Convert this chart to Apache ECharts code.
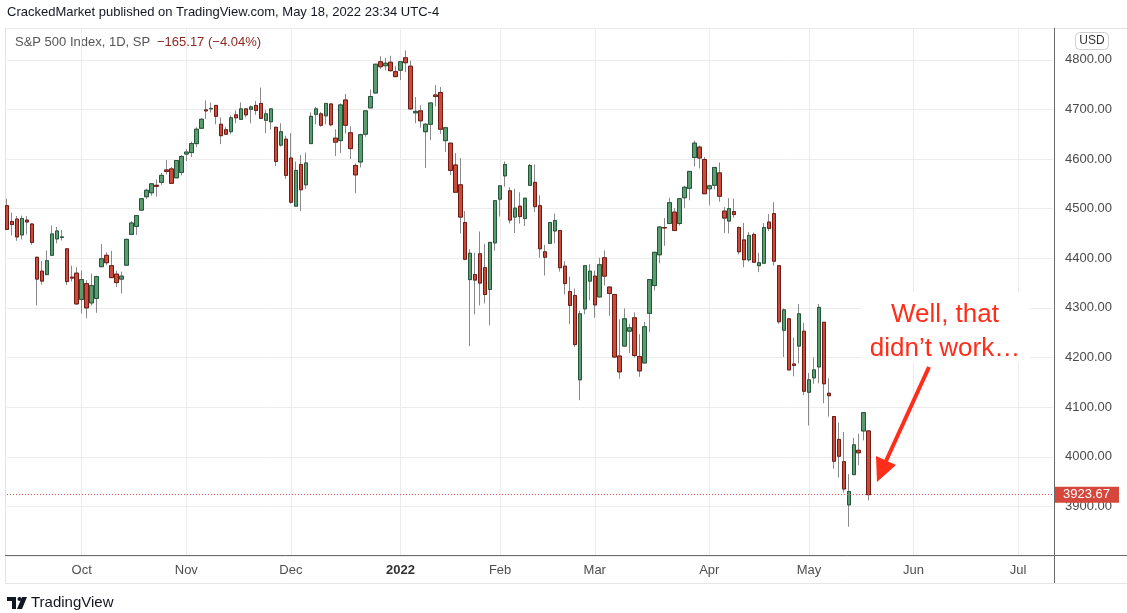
<!DOCTYPE html>
<html>
<head>
<meta charset="utf-8">
<title>S&P 500 Index, 1D</title>
<script src="https://cdn.jsdelivr.net/npm/echarts@6/dist/echarts.min.js"></script>
<style>
  html, body { margin: 0; padding: 0; background: #fff; }
  #chart { width: 1127px; height: 613px; }
</style>
</head>
<body>
<div id="chart"></div>
<script>
// daily candles, [open, high, low, close]
const sep21 = [
  [4506, 4520, 4457, 4458], [4474, 4492, 4446, 4468], [4479, 4485, 4435, 4443],
  [4447, 4486, 4438, 4480], [4477, 4485, 4448, 4473], [4469, 4471, 4427, 4432],
  [4402, 4403, 4305, 4358], [4374, 4394, 4347, 4354], [4367, 4416, 4367, 4395],
  [4406, 4466, 4406, 4449], [4439, 4463, 4430, 4455], [4442, 4457, 4436, 4443],
  [4419, 4419, 4346, 4353], [4362, 4385, 4353, 4360], [4370, 4382, 4306, 4308]
]
const oct21 = [
  [4317, 4375, 4289, 4357], [4349, 4356, 4279, 4300], [4310, 4369, 4305, 4345],
  [4319, 4365, 4290, 4363], [4383, 4429, 4383, 4399], [4406, 4412, 4386, 4391],
  [4385, 4415, 4360, 4361], [4368, 4375, 4342, 4351], [4358, 4373, 4329, 4364],
  [4386, 4440, 4386, 4438], [4448, 4475, 4447, 4471], [4464, 4487, 4447, 4486],
  [4497, 4520, 4496, 4520], [4524, 4540, 4520, 4537], [4532, 4551, 4526, 4550],
  [4547, 4559, 4524, 4545], [4553, 4572, 4548, 4567], [4578, 4598, 4569, 4575],
  [4580, 4584, 4551, 4551], [4562, 4598, 4562, 4597], [4573, 4608, 4567, 4605]
]
const nov21 = [
  [4610, 4620, 4596, 4614], [4613, 4635, 4604, 4631], [4631, 4664, 4624, 4660],
  [4662, 4683, 4662, 4680], [4699, 4718, 4681, 4697], [4701, 4714, 4694, 4702],
  [4708, 4708, 4670, 4686], [4670, 4684, 4630, 4647], [4659, 4664, 4648, 4650],
  [4655, 4688, 4650, 4683], [4689, 4698, 4672, 4683], [4680, 4714, 4679, 4701],
  [4701, 4701, 4684, 4689], [4700, 4708, 4672, 4705], [4708, 4717, 4689, 4698],
  [4712, 4744, 4682, 4682], [4678, 4699, 4652, 4691], [4675, 4702, 4659, 4701],
  [4664, 4664, 4586, 4595], [4628, 4672, 4625, 4655], [4640, 4647, 4560, 4567]
]
const dec21 = [
  [4602, 4652, 4510, 4513], [4505, 4595, 4504, 4577], [4589, 4608, 4495, 4538],
  [4548, 4613, 4540, 4592], [4631, 4694, 4631, 4686], [4690, 4705, 4670, 4701],
  [4691, 4695, 4665, 4668], [4687, 4713, 4670, 4712], [4711, 4711, 4666, 4669],
  [4642, 4660, 4606, 4634], [4637, 4712, 4612, 4709], [4719, 4731, 4651, 4668],
  [4653, 4666, 4600, 4621], [4587, 4591, 4531, 4568], [4594, 4651, 4583, 4649],
  [4650, 4697, 4645, 4697], [4703, 4740, 4703, 4726], [4733, 4791, 4733, 4791],
  [4796, 4807, 4781, 4786], [4788, 4804, 4779, 4793], [4795, 4808, 4776, 4778],
  [4776, 4787, 4766, 4766]
]
const jan22 = [
  [4779, 4797, 4759, 4796], [4804, 4819, 4775, 4794], [4787, 4798, 4699, 4701],
  [4693, 4725, 4672, 4696], [4697, 4708, 4663, 4677], [4655, 4673, 4582, 4670],
  [4670, 4714, 4638, 4713], [4729, 4749, 4706, 4726], [4734, 4745, 4651, 4660],
  [4637, 4665, 4614, 4663], [4632, 4632, 4568, 4577], [4588, 4612, 4532, 4533],
  [4548, 4602, 4450, 4483], [4472, 4495, 4396, 4398], [4357, 4418, 4223, 4410],
  [4367, 4411, 4287, 4356], [4409, 4454, 4305, 4350], [4381, 4429, 4309, 4327],
  [4337, 4432, 4265, 4432], [4431, 4516, 4415, 4516]
]
const feb22 = [
  [4519, 4546, 4484, 4546], [4566, 4595, 4544, 4589], [4536, 4543, 4470, 4477],
  [4483, 4540, 4451, 4501], [4505, 4533, 4470, 4484], [4480, 4521, 4465, 4521],
  [4547, 4590, 4547, 4587], [4553, 4589, 4493, 4504], [4506, 4527, 4401, 4419],
  [4413, 4427, 4365, 4402], [4430, 4472, 4429, 4472], [4455, 4490, 4430, 4476],
  [4456, 4456, 4373, 4381], [4384, 4394, 4327, 4349], [4333, 4363, 4267, 4305],
  [4325, 4339, 4221, 4226], [4155, 4294, 4114, 4288], [4298, 4385, 4287, 4385],
  [4354, 4388, 4315, 4374]
]
const mar22 = [
  [4364, 4375, 4280, 4306], [4322, 4401, 4322, 4387], [4401, 4416, 4345, 4364],
  [4342, 4342, 4284, 4329], [4327, 4327, 4199, 4201], [4203, 4277, 4157, 4171],
  [4223, 4299, 4223, 4278], [4253, 4268, 4209, 4260], [4280, 4291, 4200, 4204],
  [4202, 4247, 4161, 4173], [4189, 4272, 4188, 4262], [4289, 4358, 4251, 4357],
  [4345, 4412, 4335, 4412], [4407, 4465, 4390, 4463], [4462, 4481, 4425, 4461],
  [4470, 4522, 4470, 4512], [4493, 4501, 4455, 4456], [4470, 4520, 4466, 4520],
  [4522, 4546, 4501, 4543], [4541, 4575, 4517, 4575], [4603, 4637, 4585, 4632],
  [4624, 4627, 4581, 4602], [4599, 4604, 4530, 4530]
]
const apr22 = [
  [4540, 4548, 4507, 4546], [4547, 4583, 4539, 4583], [4572, 4593, 4514, 4525],
  [4495, 4503, 4451, 4481], [4475, 4521, 4450, 4500], [4494, 4520, 4482, 4488],
  [4462, 4464, 4408, 4413], [4437, 4471, 4382, 4397], [4397, 4453, 4393, 4446],
  [4448, 4452, 4392, 4392], [4385, 4411, 4372, 4391], [4390, 4471, 4390, 4462],
  [4473, 4489, 4455, 4460], [4490, 4513, 4385, 4394], [4385, 4386, 4268, 4272],
  [4255, 4299, 4201, 4296], [4278, 4279, 4175, 4175], [4187, 4240, 4162, 4184],
  [4223, 4308, 4188, 4288], [4253, 4270, 4124, 4132]
]
const may22 = [
  [4130, 4169, 4063, 4155], [4159, 4200, 4147, 4175], [4181, 4308, 4148, 4301],
  [4271, 4271, 4108, 4147], [4128, 4158, 4081, 4123], [4081, 4081, 3976, 3991],
  [4035, 4069, 3958, 4001], [3990, 4050, 3928, 3935], [3903, 3965, 3859, 3930],
  [3964, 4038, 3963, 4024], [4013, 4046, 3983, 4008], [4052, 4090, 4033, 4088.85],
  [4052, 4052, 3912, 3923.67]
]

const priceTicks = [3900, 4000, 4100, 4200, 4300, 4400, 4500, 4600, 4700, 4800]
const monthNames = ['Jan', 'Feb', 'Mar', 'Apr', 'May', 'Jun', 'Jul', 'Aug', 'Sep', 'Oct', 'Nov', 'Dec']
const holidays = ['2021-11-25', '2021-12-24', '2022-01-17', '2022-02-21', '2022-04-15', '2022-05-30', '2022-06-20']

// trading-day axis, padded into the future like the TradingView pane
const dates = []
let t = Date.UTC(2021, 8, 10)
while (dates.length < 211) {
  const d = new Date(t)
  const iso = d.toISOString().slice(0, 10)
  const wd = d.getUTCDay()
  if (wd !== 0 && wd !== 6 && !holidays.includes(iso)) dates.push(iso)
  t += 86400000
}

const candles = [].concat(sep21, oct21, nov21, dec21, jan22, feb22, mar22, apr22, may22)
const lastClose = candles[candles.length - 1][3]

const isMonthStart = (index) => index > 0 && dates[index].slice(5, 7) !== dates[index - 1].slice(5, 7)

const upFill = '#5a9b6f'
const upBorder = '#24563a'
const downFill = '#cb4a3b'
const downBorder = '#6e1c14'
const red = '#ff2d1a'
const font = 'Liberation Sans, Arial, sans-serif'

const chart = echarts.init(document.getElementById('chart'))

chart.setOption({
  animation: false,
  grid: { left: 7, right: 74, top: 28, bottom: 57 },
  xAxis: {
    type: 'category',
    data: dates,
    boundaryGap: false,
    axisLine: { show: false },
    axisTick: { show: false },
    axisLabel: {
      interval: isMonthStart,
      margin: 8,
      color: '#4e4e4e',
      fontSize: 13,
      fontFamily: font,
      formatter: (value) => {
        const m = Number(value.slice(5, 7)) - 1
        return m === 0 ? '{y|' + value.slice(0, 4) + '}' : monthNames[m]
      },
      rich: { y: { fontWeight: 'bold', color: '#333', fontSize: 13, fontFamily: font } }
    },
    splitLine: { show: true, interval: isMonthStart, lineStyle: { color: '#ececec' } }
  },
  yAxis: {
    type: 'value',
    position: 'right',
    min: 3800,
    max: 4864,
    interval: 100,
    axisLine: { show: false },
    axisTick: { show: false },
    axisLabel: {
      margin: 12,
      color: '#4a4a4a',
      fontSize: 13,
      fontFamily: font,
      showMinLabel: false,
      showMaxLabel: false,
      formatter: (v) => (priceTicks.includes(v) ? v.toFixed(2) : '')
    },
    splitLine: { lineStyle: { color: '#ececec' } }
  },
  series: [
    {
      // wicks
      type: 'candlestick',
      barWidth: 4,
      clip: false,
      data: candles.map(([o, h, l, c]) => [o, c, l, h]),
      itemStyle: {
        color: '#8a8a8a', color0: '#8a8a8a',
        borderColor: '#8a8a8a', borderColor0: '#8a8a8a', borderColorDoji: '#8a8a8a',
        borderWidth: 1
      }
    },
    {
      // bodies
      type: 'candlestick',
      barWidth: 4,
      clip: false,
      data: candles.map(([o, h, l, c]) => [o, c, Math.min(o, c), Math.max(o, c)]),
      itemStyle: {
        color: upFill, color0: downFill,
        borderColor: upBorder, borderColor0: downBorder, borderColorDoji: downBorder,
        borderWidth: 1
      }
    },
    {
      // last price line and tag
      type: 'line',
      data: [],
      markLine: {
        silent: true,
        symbol: ['none', 'none'],
        data: [{
          yAxis: lastClose,
          lineStyle: { color: '#e8544a', type: [1, 2], width: 1, opacity: 1 },
          label: {
            show: true,
            position: 'end',
            distance: 2,
            formatter: (p) => p.value.toFixed(2),
            backgroundColor: '#d5473a',
            color: '#fff',
            fontSize: 13,
            fontFamily: font,
            padding: [2, 9, 1, 8]
          }
        }]
      }
    }
  ],
  graphic: [
    // pane frame
    { type: 'line', z: 0, shape: { x1: 5, y1: 28.5, x2: 1127, y2: 28.5 }, style: { stroke: '#e3e3e3', lineWidth: 1 } },
    { type: 'line', z: 0, shape: { x1: 5.5, y1: 28, x2: 5.5, y2: 583 }, style: { stroke: '#e3e3e3', lineWidth: 1 } },
    { type: 'line', z: 0, shape: { x1: 5, y1: 583.5, x2: 1127, y2: 583.5 }, style: { stroke: '#e6e6e6', lineWidth: 1 } },
    { type: 'line', z: 10, shape: { x1: 5, y1: 555.5, x2: 1127, y2: 555.5 }, style: { stroke: '#6a6a6a', lineWidth: 1 } },
    { type: 'line', z: 10, shape: { x1: 1054.5, y1: 28, x2: 1054.5, y2: 583 }, style: { stroke: '#6a6a6a', lineWidth: 1 } },
    // header texts
    {
      type: 'text', left: 7, top: 6,
      style: { text: 'CrackedMarket published on TradingView.com, May 18, 2022 23:34 UTC-4', fill: '#131722', fontSize: 13, fontFamily: font }
    },
    {
      type: 'text', left: 15, top: 36,
      style: { text: 'S&P 500 Index, 1D, SP', fill: '#555', fontSize: 13, fontFamily: font }
    },
    {
      type: 'text', left: 157, top: 36,
      style: { text: '\u2212165.17 (\u22124.04%)', fill: '#8c2a24', fontSize: 13, fontFamily: font }
    },
    // currency badge
    { type: 'rect', shape: { x: 1075.5, y: 32.5, width: 33, height: 17, r: 4 }, style: { fill: '#fff', stroke: '#cfcfcf', lineWidth: 1 } },
    {
      type: 'text', x: 1092, y: 41,
      style: { text: 'USD', fill: '#333', fontSize: 12, fontFamily: font, align: 'center', verticalAlign: 'middle' }
    },
    // annotation
    { type: 'rect', z: 20, shape: { x: 862, y: 292, width: 168, height: 70 }, style: { fill: '#fff' } },
    {
      type: 'text', z: 21, x: 945, y: 315,
      style: { text: 'Well, that', fill: red, fontSize: 26, fontFamily: font, align: 'center', verticalAlign: 'middle' }
    },
    {
      type: 'text', z: 21, x: 945, y: 349,
      style: { text: 'didn\u2019t work\u2026', fill: red, fontSize: 26, fontFamily: font, align: 'center', verticalAlign: 'middle' }
    },
    { type: 'line', z: 21, shape: { x1: 929, y1: 367, x2: 886, y2: 461 }, style: { stroke: red, lineWidth: 4 } },
    { type: 'polygon', z: 21, shape: { points: [[877, 482], [876, 456], [896, 465]] }, style: { fill: red } },
    // TradingView footer logo
    { type: 'rect', shape: { x: 7, y: 597, width: 9, height: 4 }, style: { fill: '#131722' } },
    { type: 'rect', shape: { x: 12, y: 597, width: 4, height: 12 }, style: { fill: '#131722' } },
    { type: 'circle', shape: { cx: 19.5, cy: 599, r: 2 }, style: { fill: '#131722' } },
    { type: 'polygon', shape: { points: [[22, 597], [27, 597], [22, 609], [17, 609]] }, style: { fill: '#131722' } },
    {
      type: 'text', left: 31, top: 595,
      style: { text: 'TradingView', fill: '#131722', fontSize: 15, fontFamily: font }
    }
  ]
})
</script>
</body>
</html>
